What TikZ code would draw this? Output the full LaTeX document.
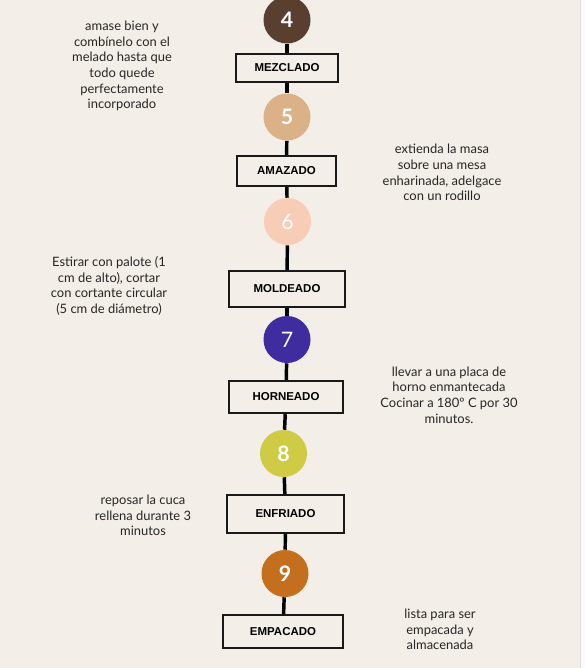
\documentclass[tikz,border=0pt]{standalone}
\usepackage{fontspec}
\setmainfont{Lato}
\newfontfamily\boxfont{Liberation Sans}
\definecolor{bgc}{HTML}{F3EEE8}
\definecolor{txtc}{HTML}{262626}
\definecolor{cfour}{HTML}{5A3F31}
\definecolor{cfive}{HTML}{DBB288}
\definecolor{csix}{HTML}{F8CDB8}
\definecolor{cseven}{HTML}{3F2C9F}
\definecolor{ceight}{HTML}{CFCB45}
\definecolor{cnine}{HTML}{C46F1E}
\tikzset{
  numc/.style={circle,fill=#1,minimum size=35.25pt,inner sep=0pt,text=white,font=\fontsize{16}{16}\selectfont\bfseries},
  numcl/.style={circle,fill=#1,minimum size=35.25pt,inner sep=0pt,text=white,font=\fontsize{16}{16}\selectfont},
  stepbox/.style 2 args={draw=black!90,line width=1.8pt,fill=bgc,minimum width=#1*0.75pt,minimum height=#2*0.75pt,inner sep=0pt,font=\boxfont\fontsize{8.6}{10}\selectfont\bfseries,text=black},
  desc/.style={align=center,text=txtc,font=\fontsize{9.7}{11.8}\selectfont,inner sep=0pt},
  link/.style={line width=2.6pt,black}
}
\begin{document}
\begin{tikzpicture}[x=0.75pt,y=-0.75pt]
\useasboundingbox (0,0) rectangle (585,668);
\fill[bgc] (0,0) rectangle (580,668);
\fill[white!97!gray] (580,0) rectangle (585,668);
\draw[gray!25,line width=0.75pt] (580.5,0) -- (580.5,668);
\begin{scope}
\clip (0,0) rectangle (580,668);
\node[numc=cfour] (c4) at (287,20) {4};
\node[stepbox={102}{28}] (b4) at (287,68) {MEZCLADO};
\node[numc=cfive] (c5) at (287,117) {5};
\node[stepbox={99}{30}] (b5) at (286.5,171) {AMAZADO};
\node[numcl=csix] (c6) at (287.5,221.5) {6};
\node[stepbox={116}{36}] (b6) at (287,289) {MOLDEADO};
\node[numcl=cseven] (c7) at (287,339.5) {7};
\node[stepbox={114}{32}] (b7) at (286,397) {HORNEADO};
\node[numc=ceight] (c8) at (283.5,453.5) {8};
\node[stepbox={117}{38}] (b8) at (285.5,514) {ENFRIADO};
\node[numc=cnine] (c9) at (285,573.5) {9};
\node[stepbox={120}{33}] (b9) at (283,631.5) {EMPACADO};
\draw[link] (c4) -- (b4);
\draw[link] (b4) -- (c5);
\draw[link] (c5) -- (b5);
\draw[link] (b5) -- (c6);
\draw[link] (c6) -- (b6);
\draw[link] (b6) -- (c7);
\draw[link] (c7) -- (b7);
\draw[link] (b7) -- (c8);
\draw[link] (c8) -- (b8);
\draw[link] (b8) -- (c9);
\draw[link] (c9) -- (b9);
\end{scope}
\node[desc] (t4) at (122,66) {amase bien y\\combínelo con el\\melado hasta que\\todo quede\\perfectamente\\incorporado};
\node[desc] (t5) at (442,172.5) {extienda la masa\\sobre una mesa\\enharinada, adelgace\\con un rodillo};
\node[desc] (t6) at (109,286) {Estirar con palote (1\\cm de alto), cortar\\con cortante circular\\(5 cm de diámetro)};
\node[desc] (t7) at (449,395) {llevar a una placa de\\horno enmantecada\\Cocinar a 180º C por 30\\minutos.};
\node[desc] (t8) at (143,515.5) {reposar la cuca\\rellena durante 3\\minutos};
\node[desc] (t9) at (440,629.5) {lista para ser\\empacada y\\almacenada};
\end{tikzpicture}
\end{document}
